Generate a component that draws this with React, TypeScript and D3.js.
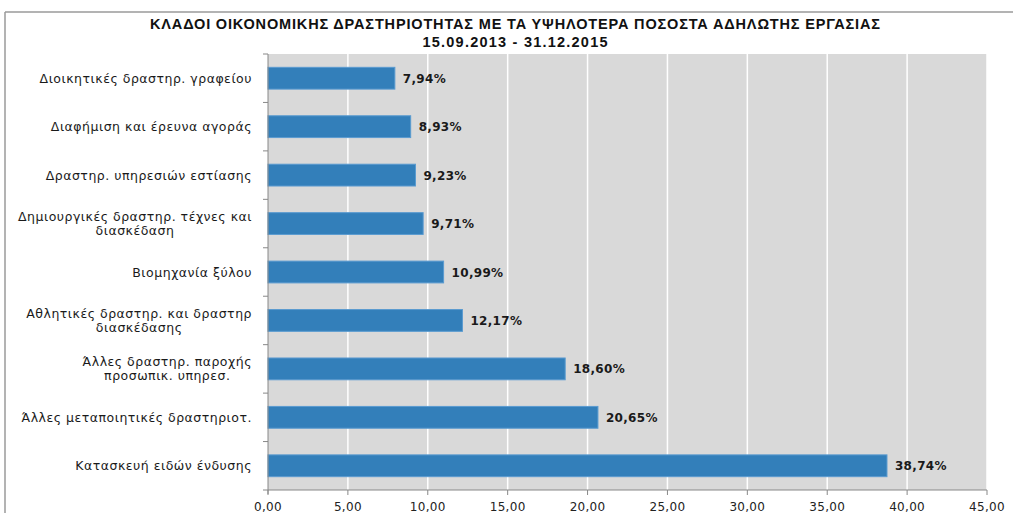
import React, { useLayoutEffect, useRef, useState } from "react";
import * as d3 from "d3";

const categories: string[][] = [
  ["Διοικητικές δραστηρ. γραφείου"],
  ["Διαφήμιση και έρευνα αγοράς"],
  ["Δραστηρ. υπηρεσιών εστίασης"],
  ["Δημιουργικές δραστηρ. τέχνες και", "διασκέδαση"],
  ["Βιομηχανία ξύλου"],
  ["Αθλητικές δραστηρ. και δραστηρ", "διασκέδασης"],
  ["Άλλες δραστηρ. παροχής", "προσωπικ. υπηρεσ."],
  ["Άλλες μεταποιητικές δραστηριοτ."],
  ["Κατασκευή ειδών ένδυσης"],
];
const values: number[] = [7.94, 8.93, 9.23, 9.71, 10.99, 12.17, 18.6, 20.65, 38.74];
const xTicks: number[] = [0, 5, 10, 15, 20, 25, 30, 35, 40, 45];
const titleLines: string[] = [
  "ΚΛΑΔΟΙ ΟΙΚΟΝΟΜΙΚΗΣ ΔΡΑΣΤΗΡΙΟΤΗΤΑΣ ΜΕ ΤΑ ΥΨΗΛΟΤΕΡΑ ΠΟΣΟΣΤΑ ΑΔΗΛΩΤΗΣ ΕΡΓΑΣΙΑΣ",
  "15.09.2013 - 31.12.2015",
];
const titleWidths: number[] = [730, 185];

const W = 1013;
const H = 513;
const plot = { left: 268, right: 987, top: 54, bottom: 490 };
const labelSize = 12.5;
const labelSpacing = 0.5;

const fmt = (v: number) => v.toFixed(2).replace(".", ",");

export default function App() {
  const x = d3.scaleLinear().domain([0, 45]).range([plot.left, plot.right]);
  const idx = categories.map((_, i) => String(i));
  const y = d3.scaleBand().domain(idx).range([plot.top, plot.bottom]).paddingInner(0.55).paddingOuter(0.275);
  const step = y.step();
  const labelRight = 252;

  const labelRefs = useRef<(SVGTextElement | null)[][]>(categories.map((l) => l.map(() => null)));
  const [labelWidths, setLabelWidths] = useState<number[][] | null>(null);

  useLayoutEffect(() => {
    const w = labelRefs.current.map((arr) => arr.map((el) => (el ? el.getBBox().width : 0)));
    setLabelWidths(w);
  }, []);

  return (
    <svg width={W} height={H} style={{ position: "absolute", left: 0, top: 0, background: "#fff" }}>
      <line x1={5} y1={12} x2={1013} y2={12} stroke="#9a9a9a" strokeWidth={1.5} />
      <line x1={5} y1={12} x2={5} y2={513} stroke="#9a9a9a" strokeWidth={1.5} />
      {titleLines.map((t, i) => (
        <text
          key={i}
          x={515}
          y={29 + i * 18}
          textAnchor="middle"
          fontFamily="'Liberation Sans', Arial, sans-serif"
          fontWeight="bold"
          fontSize={14.5}
          textLength={titleWidths[i]}
          lengthAdjust="spacing"
          fill="#111"
        >
          {t}
        </text>
      ))}
      <rect x={plot.left} y={plot.top} width={plot.right - plot.left} height={plot.bottom - plot.top} fill="#d9d9d9" />
      {xTicks.slice(1).map((t) => (
        <line key={t} x1={x(t)} x2={x(t)} y1={plot.top} y2={plot.bottom} stroke="#ffffff" strokeWidth={1.5} />
      ))}
      {values.map((v, i) => (
        <rect
          key={i}
          x={x(0)}
          y={y(String(i))!}
          width={x(v) - x(0)}
          height={y.bandwidth()}
          fill="#337fba"
          stroke="#5a9bd0"
          strokeWidth={1}
        />
      ))}
      {values.map((v, i) => (
        <text
          key={i}
          x={x(v) + 8}
          y={y(String(i))! + y.bandwidth() / 2 + 4.5}
          fontFamily="'DejaVu Sans', Verdana, sans-serif"
          fontWeight="bold"
          fontSize={12}
          letterSpacing={0.3}
          fill="#1a1a1a"
        >
          {fmt(v) + "%"}
        </text>
      ))}
      {/* y axis */}
      <line x1={plot.left} x2={plot.left} y1={plot.top} y2={plot.bottom + 4} stroke="#888" strokeWidth={1} />
      {d3.range(categories.length + 1).map((k) => (
        <line key={k} x1={plot.left - 5} x2={plot.left} y1={plot.top + k * step} y2={plot.top + k * step} stroke="#888" />
      ))}
      {/* x axis */}
      <line x1={plot.left} x2={plot.right} y1={plot.bottom} y2={plot.bottom} stroke="#888" strokeWidth={1} />
      {xTicks.map((t) => (
        <g key={t}>
          <line x1={x(t)} x2={x(t)} y1={plot.bottom} y2={plot.bottom + 5} stroke="#888" />
          <text
            x={x(t)}
            y={511}
            textAnchor="middle"
            fontFamily="'DejaVu Sans', Verdana, sans-serif"
            fontSize={12}
            letterSpacing={0.3}
            fill="#222"
          >
            {fmt(t)}
          </text>
        </g>
      ))}
      {categories.map((lines, i) => {
        const cy = y(String(i))! + y.bandwidth() / 2;
        const widths = labelWidths ? labelWidths[i] : lines.map(() => 0);
        const maxW = Math.max(...widths);
        const lh = 14;
        const y0 = cy - ((lines.length - 1) * lh) / 2 + 4.5;
        return (
          <g key={i} visibility={labelWidths ? "visible" : "hidden"}>
            {lines.map((l, j) => (
              <text
                key={j}
                ref={(el) => {
                  labelRefs.current[i][j] = el;
                }}
                x={labelRight - maxW / 2 - widths[j] / 2}
                y={y0 + j * lh}
                fontFamily="'DejaVu Sans', Verdana, sans-serif"
                fontSize={labelSize}
                letterSpacing={labelSpacing}
                fill="#1a1a1a"
              >
                {l}
              </text>
            ))}
          </g>
        );
      })}
    </svg>
  );
}
